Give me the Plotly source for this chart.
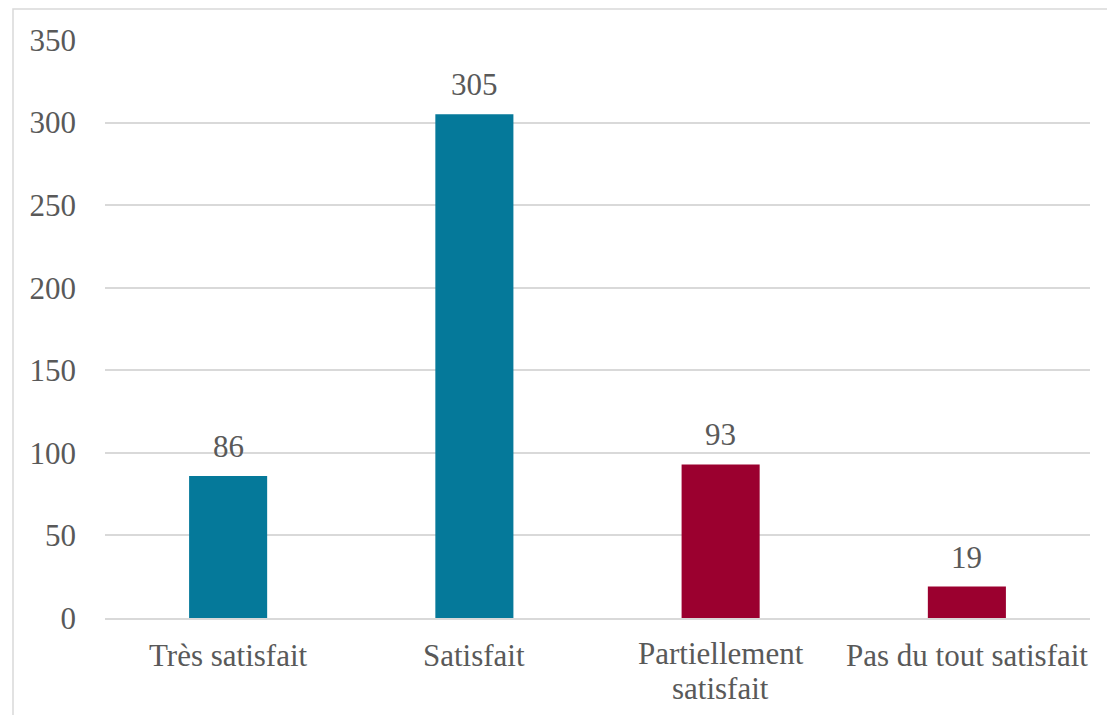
import plotly.graph_objects as go

categories = ["Très satisfait", "Satisfait", "Partiellement satisfait", "Pas du tout satisfait"]
label_lines = [["Très satisfait"], ["Satisfait"], ["Partiellement", "satisfait"], ["Pas du tout satisfait"]]
values = [86, 305, 93, 19]
bar_colors = ["#05799A", "#05799A", "#9B002F", "#9B002F"]

W, H = 1115, 715
L, T = 97, 32
pw, ph = 985, 578
R, B = W - L - pw, H - T - ph

FONT = "Liberation Serif"
FS = 31
TXT = "#595959"
GRID = "#D9D9D9"

fig = go.Figure(go.Bar(
    x=categories, y=values,
    marker=dict(color=bar_colors, line=dict(width=0)),
    hoverinfo="x+y",
))

# value labels above bars
for c, v in zip(categories, values):
    fig.add_annotation(x=c, y=v, text=str(v), showarrow=False, yanchor="bottom",
                       yshift=10, font=dict(family=FONT, size=FS, color=TXT))

# category labels (tight line spacing as in the reference)
for c, lines in zip(categories, label_lines):
    n = len(lines)
    start = -19 if n == 1 else -17
    for i, line in enumerate(lines):
        fig.add_annotation(x=c, y=0, xref="x", yref="paper", text=line, showarrow=False,
                           yanchor="top", yshift=start - 35 * i, borderpad=0,
                           font=dict(family=FONT, size=FS, color=TXT))

def px_to_paper_x(px):
    return (px - L) / pw

def px_to_paper_y(py):
    return (T + ph - py) / ph

# outer chart border (light grey), extends beyond right/bottom
fig.add_shape(type="rect", xref="paper", yref="paper",
              x0=px_to_paper_x(5), x1=px_to_paper_x(1140),
              y0=px_to_paper_y(740), y1=px_to_paper_y(1),
              line=dict(color=GRID, width=1.5), fillcolor="rgba(0,0,0,0)", layer="below")

fig.update_layout(
    width=W, height=H,
    margin=dict(l=L, r=R, t=T, b=B, autoexpand=False),
    paper_bgcolor="white", plot_bgcolor="white",
    bargap=0.683,
    showlegend=False,
    font=dict(family=FONT, size=FS, color=TXT),
    xaxis=dict(showgrid=False, showline=True, linecolor=GRID, linewidth=1.5,
               ticks="", showticklabels=False),
    yaxis=dict(range=[0, 350], dtick=50, showgrid=True, gridcolor=GRID, gridwidth=1.5,
               zeroline=False, showline=False, ticks="", ticklabelstandoff=28,
               tickfont=dict(family=FONT, size=FS, color=TXT)),
)

fig.write_html("out.html")
